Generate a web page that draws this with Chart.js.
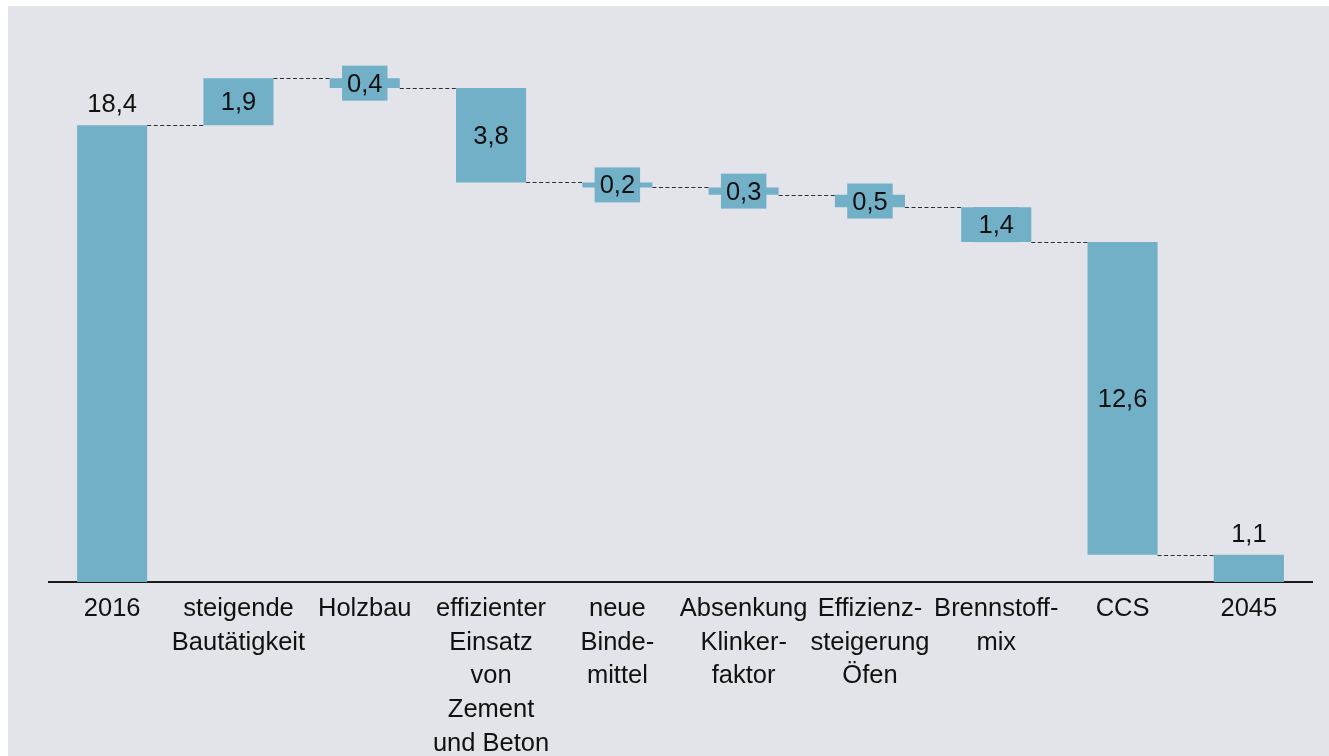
<!DOCTYPE html>
<html><head><meta charset="utf-8">
<script src="https://cdn.jsdelivr.net/npm/chart.js@4.4.0/dist/chart.umd.min.js"></script>
<style>html,body{margin:0;padding:0;background:#fff;overflow:hidden}#wrap{position:absolute;left:0;top:0;width:1329px;height:756px}</style>
</head><body><div id="wrap"><canvas id="c"></canvas></div>
<script>
const categories = [["2016"],["steigende","Bautätigkeit"],["Holzbau"],["effizienter","Einsatz","von","Zement","und Beton"],["neue","Binde-","mittel"],["Absenkung","Klinker-","faktor"],["Effizienz-","steigerung","Öfen"],["Brennstoff-","mix"],["CCS"],["2045"]];
const changes = [18.4, 1.9, -0.4, -3.8, -0.2, -0.3, -0.5, -1.4, -12.6, 1.1];
const isTotal = [true, false, false, false, false, false, false, false, false, true];

const BAR = '#72b0c8';
const PANEL = '#e3e4e9';
const FONT = "'Liberation Sans', Arial, Helvetica, sans-serif";

// build floating bars
const bars = [];
const ends = [];
let run = 0;
changes.forEach((v, i) => {
  if (isTotal[i]) { bars.push([0, v]); run = v; }
  else { const s = run; run = Math.round((run + v) * 100) / 100; bars.push([Math.min(s, run), Math.max(s, run)]); }
  ends.push(run);
});
const fmt = v => Math.abs(v).toFixed(1).replace('.', ',');

const wfPlugin = {
  id: 'wf',
  beforeDraw(chart) {
    const {ctx, width, height} = chart;
    ctx.save();
    ctx.fillStyle = '#fff'; ctx.fillRect(0, 0, width, height);
    ctx.fillStyle = PANEL; ctx.fillRect(8, 6, width - 8, height - 6);
    ctx.restore();
  },
  afterDatasetsDraw(chart) {
    const ctx = chart.ctx;
    const meta = chart.getDatasetMeta(0);
    const y = chart.scales.y;
    ctx.save();
    // connectors
    ctx.strokeStyle = '#2e2e2e';
    ctx.lineWidth = 1;
    ctx.setLineDash([4, 2.5]);
    for (let i = 0; i < meta.data.length - 1; i++) {
      const b = meta.data[i], nb = meta.data[i + 1];
      const py = Math.round(y.getPixelForValue(ends[i])) + 0.5;
      ctx.beginPath();
      ctx.moveTo(b.x + b.width / 2, py);
      ctx.lineTo(nb.x - nb.width / 2, py);
      ctx.stroke();
    }
    ctx.setLineDash([]);
    // labels
    ctx.font = '25.5px ' + FONT;
    ctx.textAlign = 'center';
    ctx.textBaseline = 'middle';
    meta.data.forEach((b, i) => {
      const t = fmt(changes[i]);
      if (isTotal[i]) {
        ctx.fillStyle = '#111';
        ctx.fillText(t, b.x, Math.min(b.y, b.base) - 20);
      } else {
        const cy = (b.y + b.base) / 2;
        const w = ctx.measureText(t).width + 10;
        ctx.fillStyle = BAR;
        ctx.fillRect(b.x - w / 2, cy - 17.5, w, 35);
        ctx.fillStyle = '#111';
        ctx.fillText(t, b.x, cy + 1.5);
      }
    });
    ctx.restore();
  }
};

new Chart(document.getElementById('c'), {
  type: 'bar',
  data: {
    labels: categories,
    datasets: [{
      data: bars,
      backgroundColor: BAR,
      borderWidth: 0,
      borderSkipped: false,
      barPercentage: 0.555,
      categoryPercentage: 1
    }]
  },
  options: {
    responsive: true,
    maintainAspectRatio: false,
    animation: false,
    layout: { padding: { left: 49, right: 17, top: 36, bottom: 0 } },
    plugins: { legend: { display: false }, tooltip: { enabled: false } },
    scales: {
      x: {
        grid: { display: false },
        border: { display: true, color: '#1a1a1a', width: 2 },
        ticks: {
          autoSkip: false, maxRotation: 0, minRotation: 0, padding: 2,
          color: '#111',
          font: { family: FONT, size: 25.5, lineHeight: 1.32 }
        },
        afterFit(scale) { scale.height = 174; }
      },
      y: { display: false, min: 0, max: 22 }
    }
  },
  plugins: [wfPlugin]
});
</script>
</body></html>
